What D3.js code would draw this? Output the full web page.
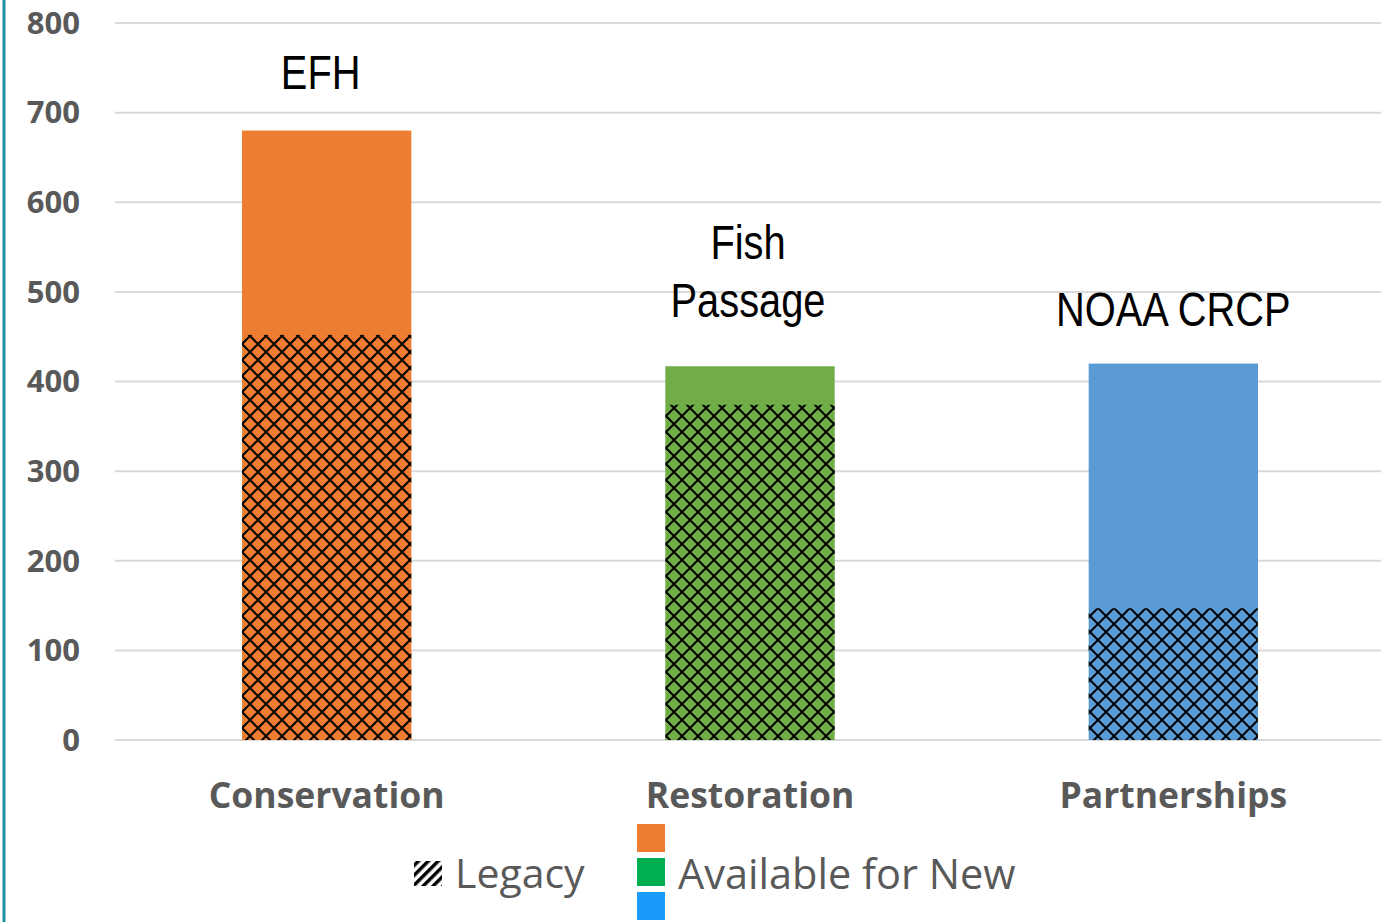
<!DOCTYPE html>
<html>
<head>
<meta charset="utf-8">
<script src="https://cdn.jsdelivr.net/npm/d3@7"></script>
<style>
  body { margin: 0; background: #fff; }
  svg { display: block; }
</style>
</head>
<body>
<svg id="chart" width="1381" height="922"></svg>
<script>
// data
var categories = ["Conservation", "Restoration", "Partnerships"];
var legacyValues = [452, 374, 147];
var totalValues = [680, 417, 420];
var programLabels = [["EFH"], ["Fish", "Passage"], ["NOAA CRCP"]];
var barColours = ["#ED7D31", "#70AD47", "#5B9BD5"];
var yTicks = [0, 100, 200, 300, 400, 500, 600, 700, 800];

var svg = d3.select("#chart"),
  width = 1381,
  height = 922;

var x = d3.scaleBand().domain(categories).range([115, 1385]).paddingInner(0.6).paddingOuter(0.3);
var y = d3.scaleLinear().domain([0, 800]).range([740, 23]);

// crosshatch pattern for legacy part
var defs = svg.append("defs");
var pat = defs.append("pattern")
  .attr("id", "hatch")
  .attr("patternUnits", "userSpaceOnUse")
  .attr("x", 242)
  .attr("width", 16)
  .attr("height", 16);
pat.append("path")
  .attr("d", "M0,8 L8,0 L16,8 L8,16 Z")
  .attr("fill", "none")
  .attr("stroke", "#000")
  .attr("stroke-width", 2);

var stripes = defs.append("pattern")
  .attr("id", "stripes")
  .attr("patternUnits", "userSpaceOnUse")
  .attr("width", 7)
  .attr("height", 7)
  .attr("patternTransform", "rotate(45)");
stripes.append("rect").attr("width", 3.5).attr("height", 7).attr("fill", "#000");

// left border line
svg.append("line")
  .attr("x1", 4).attr("x2", 4)
  .attr("y1", 0).attr("y2", height)
  .attr("stroke", "#1F8FA0")
  .attr("stroke-width", 3);

// gridlines
svg.append("g")
  .selectAll("line")
  .data(yTicks)
  .join("line")
  .attr("x1", 115).attr("x2", width)
  .attr("y1", d => y(d)).attr("y2", d => y(d))
  .attr("stroke", "#D9D9D9")
  .attr("stroke-width", 2);

// y tick labels
svg.append("g")
  .selectAll("text")
  .data(yTicks)
  .join("text")
  .attr("x", 80)
  .attr("y", d => y(d))
  .attr("dy", "0.35em")
  .attr("text-anchor", "end")
  .style("font-family", "Open Sans")
  .style("font-weight", "bold")
  .style("font-size", "31px")
  .style("fill", "#595959")
  .text(d => d);

// bars: full total in colour, then hatched legacy over the bottom part
var bars = svg.append("g");
bars.selectAll("rect.total")
  .data(categories)
  .join("rect")
  .attr("class", "total")
  .attr("x", d => x(d))
  .attr("width", x.bandwidth())
  .attr("y", (d, i) => y(totalValues[i]))
  .attr("height", (d, i) => y(0) - y(totalValues[i]))
  .attr("fill", (d, i) => barColours[i]);

bars.selectAll("rect.legacy")
  .data(categories)
  .join("rect")
  .attr("class", "legacy")
  .attr("x", d => x(d))
  .attr("width", x.bandwidth())
  .attr("y", (d, i) => y(legacyValues[i]))
  .attr("height", (d, i) => y(0) - y(legacyValues[i]))
  .attr("fill", "url(#hatch)");

// category labels
svg.append("g")
  .selectAll("text")
  .data(categories)
  .join("text")
  .attr("x", d => x(d) + x.bandwidth() / 2)
  .attr("y", 796)
  .attr("dy", "0.35em")
  .attr("text-anchor", "middle")
  .style("font-family", "Open Sans")
  .style("font-weight", "bold")
  .style("font-size", "35.5px")
  .style("fill", "#595959")
  .text(d => d);

// program annotations above bars (narrow font faked with scaleX)
var gapAbove = [42, 49, 38],
  shiftX = [-6, -2, 0];
var ann = svg.append("g");
categories.forEach((c, i) => {
  var lines = programLabels[i];
  var lineH = 58;
  var base = y(totalValues[i]) - gapAbove[i] - (lines.length - 1) * lineH;
  lines.forEach((t, j) => {
    ann.append("text")
      .attr("transform", "translate(" + (x(c) + x.bandwidth() / 2 + shiftX[i]) + "," + (base + j * lineH) + ") scale(0.83,1)")
      .attr("text-anchor", "middle")
      .style("font-family", "Liberation Sans")
      .style("font-size", "48px")
      .style("fill", "#000")
      .text(t);
  });
});

// legend
var legend = svg.append("g");
legend.append("rect")
  .attr("x", 414).attr("y", 861)
  .attr("width", 28).attr("height", 25)
  .attr("fill", "url(#stripes)");
legend.append("text")
  .attr("x", 455).attr("y", 874)
  .attr("dy", "0.35em")
  .style("font-family", "Open Sans")
  .style("font-size", "41px")
  .style("fill", "#595959")
  .text("Legacy");

var legendColours = ["#ED7D31", "#00B050", "#1A9BFC"];
legend.selectAll("rect.sw")
  .data(legendColours)
  .join("rect")
  .attr("class", "sw")
  .attr("x", 637)
  .attr("y", (d, i) => 824 + i * 34)
  .attr("width", 28)
  .attr("height", 28)
  .attr("fill", d => d);
legend.append("text")
  .attr("x", 678).attr("y", 874)
  .attr("dy", "0.35em")
  .style("font-family", "Open Sans")
  .style("font-size", "41.5px")
  .style("fill", "#595959")
  .text("Available for New");
</script>
</body>
</html>
